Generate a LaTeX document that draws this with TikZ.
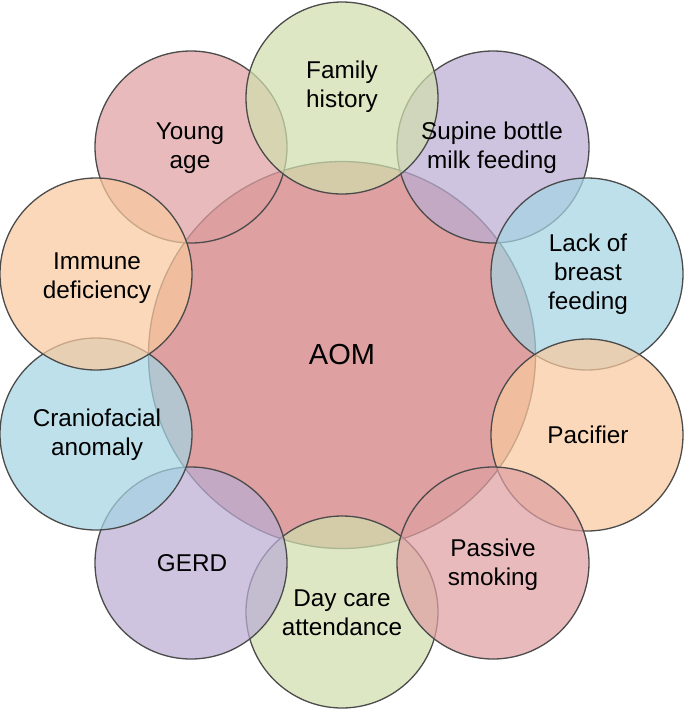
\documentclass[tikz,border=0pt]{standalone}
\usepackage{fontspec}
\setmainfont{Liberation Sans}
\definecolor{cRed}{RGB}{209,123,123}
\definecolor{cGreen}{RGB}{208,222,173}
\definecolor{cPurple}{RGB}{187,173,212}
\definecolor{cBlue}{RGB}{165,212,227}
\definecolor{cOrange}{RGB}{248,201,158}
\definecolor{cPink}{RGB}{223,159,162}
\definecolor{cLine}{RGB}{75,75,75}
\begin{document}
\begin{tikzpicture}[x=1pt,y=-1pt,
  bub/.style={circle, draw=cLine, line width=1.3pt, fill opacity=0.72, draw opacity=1, minimum size=192pt, inner sep=0pt},
  hub/.style={circle, draw=cLine, line width=1.3pt, fill opacity=0.72, draw opacity=1, minimum size=387pt, inner sep=0pt},
  lbl/.style={align=center, text=black, font=\fontsize{24.3}{29}\selectfont, inner sep=0pt},
  hublbl/.style={text=black, font=\fontsize{29}{34}\selectfont, inner sep=0pt}]
\useasboundingbox (0,0) rectangle (685,713);
% hub
\node[hub, fill=cRed] (aom) at (342,355) {};
% outer circles in stacking order
\node[bub, fill=cGreen]  (day) at (342,612) {};
\node[bub, fill=cPurple] (gerd) at (191,563) {};
\node[bub, fill=cBlue]   (cran) at (96,434) {};
\node[bub, fill=cPink]   (young) at (191,147) {};
\node[bub, fill=cOrange] (imm) at (96,274) {};
\node[bub, fill=cPurple] (sup) at (493,147) {};
\node[bub, fill=cGreen]  (fam) at (342,98) {};
\node[bub, fill=cBlue]   (lack) at (587,274) {};
\node[bub, fill=cOrange] (pac) at (587,435) {};
\node[bub, fill=cPink]   (pass) at (493,563) {};
% labels
\node[hublbl] (aomt) at (342,355) {AOM};
\node[lbl] (famt) at (342,87) {Family\\history};
\node[lbl] (supt) at (492,148) {Supine bottle\\milk feeding};
\node[lbl] (lackt) at (588,274) {Lack of\\breast\\feeding};
\node[lbl] (pact) at (588,435) {Pacifier};
\node[lbl] (passt) at (493,565) {Passive\\smoking};
\node[lbl] (dayt) at (342,613) {Day care\\attendance};
\node[lbl] (gerdt) at (192,563) {GERD};
\node[lbl] (crant) at (97,435) {Craniofacial\\anomaly};
\node[lbl] (immt) at (97,278) {Immune\\deficiency};
\node[lbl] (youngt) at (190,148) {Young\\age};
\end{tikzpicture}
\end{document}
